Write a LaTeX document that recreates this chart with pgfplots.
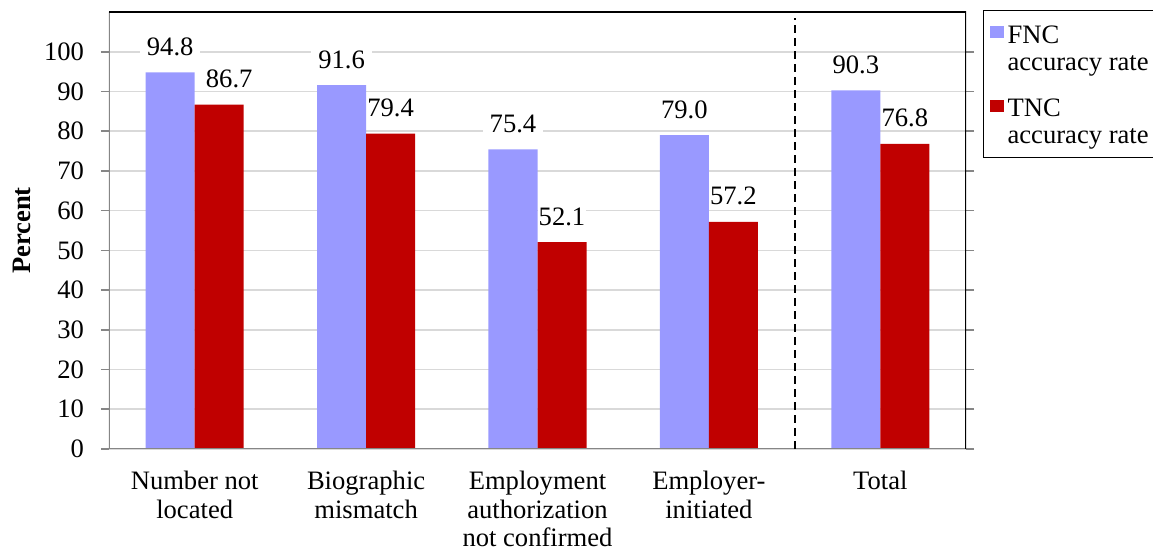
\documentclass[border=0pt]{standalone}
\usepackage{fontspec}
\setmainfont{Liberation Serif}
\usepackage{pgfplots}
\pgfplotsset{compat=1.18}
\usetikzlibrary{calc}
\definecolor{fnc}{HTML}{9999FF}
\definecolor{tnc}{HTML}{C00000}
\definecolor{gridc}{HTML}{D9D9D9}
\definecolor{axc}{HTML}{868686}

% x = category index, dx = label nudge (pt)
\pgfplotstableread{
x  y     dx
0  94.8  0
1  91.6  0
2  75.4  0
3  79.0  0
4  90.3  0
}\fncdata
\pgfplotstableread{
x  y     dx
0  86.7  5
1  79.4  0
2  52.1  0
3  57.2  0
4  76.8  0
}\tncdata

\begin{document}
\begin{tikzpicture}
\begin{axis}[
  name=ax,
  scale only axis, width=428.5pt, height=218.5pt,
  font=\fontsize{13.3}{14.3}\selectfont,
  /pgf/number format/assume math mode=true,
  ymin=0, ymax=110, ytick={0,10,...,100},
  xmin=-0.5, xmax=4.5,
  xtick={0,...,4},
  xticklabels={Number not\\located, Biographic\\mismatch, Employment\\authorization\\not confirmed, Employer-\\initiated, Total},
  xticklabel style={align=center, yshift=-3.5pt},
  yticklabel style={xshift=-5pt},
  x tick style={draw=none},
  extra x ticks={-0.5,0.5,1.5,2.5,3.5,4.5},
  extra x tick labels={},
  extra x tick style={tick style={draw=axc, line width=0.8pt}},
  y tick style={draw=axc, line width=0.8pt},
  tick align=outside, major tick length=4pt,
  ymajorgrids, major grid style={gridc, line width=0.8pt},
  axis line style={draw=none},
  ylabel={\textbf{Percent}},
  ylabel style={yshift=0pt},
  ybar, bar width=0.286,
  visualization depends on={\thisrow{dx} \as \dx},
  nodes near coords={\pgfmathprintnumber[fixed,fixed zerofill,precision=1]{\pgfplotspointmeta}},
  every node near coord/.append style={font=\fontsize{13.3}{14.5}\selectfont,
    fill=white, inner ysep=1pt, anchor=base, yshift=8.5pt, xshift=\dx pt},
  legend style={at={(rel axis cs:1,1)}, anchor=north west, xshift=8.5pt, yshift=1pt,
    draw=black, line width=0.6pt, font=\fontsize{13.3}{13.5}\selectfont,
    cells={anchor=west, align=left}, row sep=8.5pt, inner xsep=3pt, inner ysep=3.5pt},
  legend cell align=left,
  legend image code/.code={\fill[#1, draw=none] (0pt,5pt) rectangle (7pt,11pt);},
]
\addplot[fill=fnc, draw=none, bar shift=-0.143,
  every node near coord/.append style={inner xsep=3.5pt}] table[x=x, y=y] {\fncdata};
\addplot[fill=tnc, draw=none, bar shift=0.143,
  every node near coord/.append style={inner xsep=0.4pt}] table[x=x, y=y] {\tncdata};
\legend{\rule{0pt}{11pt}FNC\\accuracy rate, TNC\\accuracy rate}
\draw[axc, line width=1pt] (rel axis cs:0,1) -- (rel axis cs:0,0) -- (rel axis cs:1,0);
\draw[black, line width=0.7pt] (rel axis cs:0,1) -- (rel axis cs:1,1) -- (rel axis cs:1,0);
\draw[black, line width=0.9pt, dash pattern=on 4pt off 2.5pt] (axis cs:3.5,0) -- (axis cs:3.5,108.5);
\end{axis}
\pgfresetboundingbox
\path[use as bounding box] ([xshift=-54.5pt,yshift=-52.5pt]ax.south west) rectangle ([xshift=93.5pt,yshift=6pt]ax.north east);
\end{tikzpicture}
\end{document}
